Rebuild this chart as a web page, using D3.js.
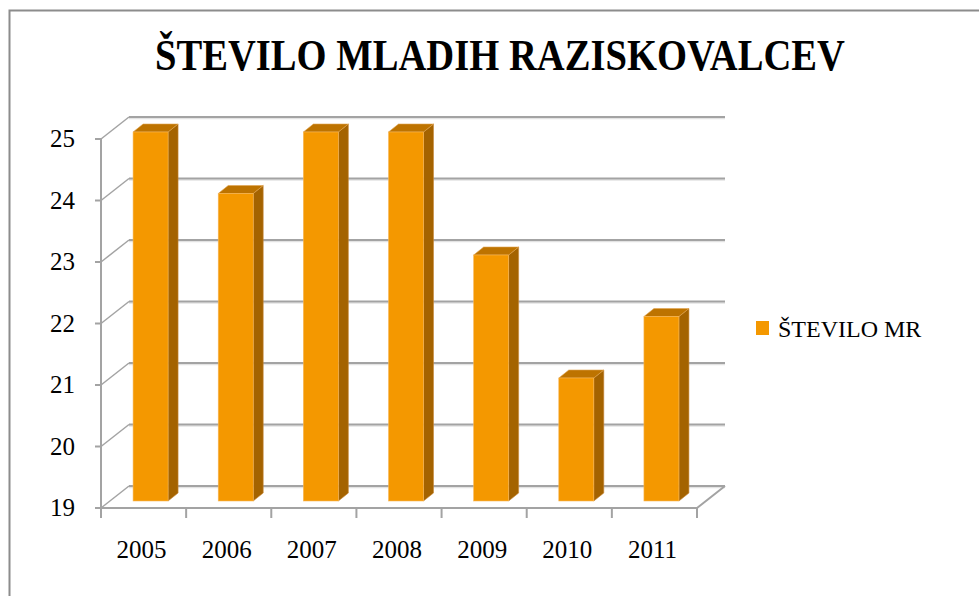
<!DOCTYPE html>
<html>
<head>
<meta charset="utf-8">
<script src="https://cdn.jsdelivr.net/npm/d3@7"></script>
</head>
<body style="margin:0">
<svg id="chart" width="979" height="596"></svg>
<script>
// data
var years = ['2005', '2006', '2007', '2008', '2009', '2010', '2011'];
var counts = [25, 24, 25, 25, 23, 21, 22];
var yTicks = [19, 20, 21, 22, 23, 24, 25];
var seriesName = 'ŠTEVILO MR';
var title = 'ŠTEVILO MLADIH RAZISKOVALCEV';

var serif = "'Liberation Serif'";
var svg = d3.select('#chart');

// chart frame (only left + top edges visible in the original)
svg.append('path')
    .attr('d', 'M9.5,596 L9.5,10.5 L979,10.5')
    .attr('fill', 'none')
    .attr('stroke', '#8c8c8c')
    .attr('stroke-width', 2);

// front plane scales
var xScale = d3.scaleBand().domain(years).range([101, 697]);
var yScale = d3.scaleLinear().domain([19, 25]).range([508, 139]);

// 3d offsets
var back = {x: 28, y: -22};   // back wall
var barOff = {x: 7, y: -7};   // bar front face
var depth = {x: 10, y: -8};   // bar depth
var barW = 35;

var gridG = svg.append('g');

// back wall gridlines + left side diagonals
yTicks.forEach(function(t) {
    var y = yScale(t);
    gridG.append('line')
        .attr('x1', 101 + back.x).attr('y1', y + back.y + 1.5)
        .attr('x2', 697 + back.x).attr('y2', y + back.y + 1.5)
        .attr('stroke', '#e3e3e3').attr('stroke-width', 1.5);
    gridG.append('line')
        .attr('x1', 101 + back.x).attr('y1', y + back.y)
        .attr('x2', 697 + back.x).attr('y2', y + back.y)
        .attr('stroke', '#a3a3a3').attr('stroke-width', 2);
    gridG.append('line')
        .attr('x1', 101).attr('y1', y)
        .attr('x2', 101 + back.x).attr('y2', y + back.y)
        .attr('stroke', '#a3a3a3').attr('stroke-width', 1.5);
});

// floor
var y0 = yScale(19);
gridG.append('path')
    .attr('d', 'M101,' + y0 + ' L697,' + y0 + ' L' + (697 + back.x) + ',' + (y0 + back.y))
    .attr('fill', 'none')
    .attr('stroke', '#a3a3a3')
    .attr('stroke-width', 2);

// bars
var bars = svg.selectAll('.bar')
    .data(years)
    .enter()
    .append('g')
    .attr('class', 'bar');

bars.each(function(d, i) {
    var g = d3.select(this);
    var x = xScale(d) + (xScale.bandwidth() - barW) / 2 + barOff.x;
    var yTop = yScale(counts[i]) + barOff.y;
    var yBot = yScale(19) + barOff.y;
    // side face
    g.append('path')
        .attr('d', 'M' + (x + barW) + ',' + yTop +
            ' L' + (x + barW + depth.x) + ',' + (yTop + depth.y) +
            ' L' + (x + barW + depth.x) + ',' + (yBot + depth.y) +
            ' L' + (x + barW) + ',' + yBot + 'Z')
        .attr('fill', '#a46300')
        .attr('stroke', '#c98a3a').attr('stroke-width', 0.6);
    // top face
    g.append('path')
        .attr('d', 'M' + x + ',' + yTop +
            ' L' + (x + depth.x) + ',' + (yTop + depth.y) +
            ' L' + (x + barW + depth.x) + ',' + (yTop + depth.y) +
            ' L' + (x + barW) + ',' + yTop + 'Z')
        .attr('fill', '#bd7300')
        .attr('stroke', '#e0a550').attr('stroke-width', 0.6);
    // front face
    g.append('rect')
        .attr('x', x).attr('y', yTop)
        .attr('width', barW).attr('height', yBot - yTop)
        .attr('fill', '#f49800')
        .attr('stroke', '#f7b85a').attr('stroke-width', 0.6);
});

// front axes
var axisG = svg.append('g');
axisG.append('line')
    .attr('x1', 101).attr('y1', yScale(25))
    .attr('x2', 101).attr('y2', yScale(19))
    .attr('stroke', '#a3a3a3').attr('stroke-width', 2);
yTicks.forEach(function(t) {
    axisG.append('line')
        .attr('x1', 95).attr('y1', yScale(t))
        .attr('x2', 101).attr('y2', yScale(t))
        .attr('stroke', '#a3a3a3').attr('stroke-width', 2);
    axisG.append('text')
        .attr('x', 75).attr('y', yScale(t) + 8)
        .attr('text-anchor', 'end')
        .style('font-family', serif)
        .attr('font-size', 25)
        .attr('fill', '#000')
        .text(t);
});
xScale.domain().concat(['end']).forEach(function(d, i) {
    var x = i < years.length ? xScale(d) : 697;
    axisG.append('line')
        .attr('x1', x).attr('y1', y0)
        .attr('x2', x).attr('y2', y0 + 10)
        .attr('stroke', '#a3a3a3').attr('stroke-width', 2);
});
years.forEach(function(d) {
    axisG.append('text')
        .attr('x', xScale(d) + xScale.bandwidth() / 2 - 2)
        .attr('y', 558)
        .attr('text-anchor', 'middle')
        .style('font-family', serif)
        .attr('font-size', 25)
        .attr('fill', '#000')
        .text(d);
});

// title
svg.append('text')
    .attr('x', 155).attr('y', 70)
    .style('font-family', serif)
    .attr('font-size', 44)
    .attr('font-weight', 'bold')
    .attr('textLength', 690)
    .attr('lengthAdjust', 'spacingAndGlyphs')
    .attr('fill', '#000')
    .text(title);

// legend
svg.append('rect')
    .attr('x', 756).attr('y', 321)
    .attr('width', 13).attr('height', 14)
    .attr('fill', '#f49800');
svg.append('text')
    .attr('x', 778).attr('y', 337)
    .style('font-family', serif)
    .attr('font-size', 24)
    .attr('fill', '#000')
    .text(seriesName);
</script>
</body>
</html>
